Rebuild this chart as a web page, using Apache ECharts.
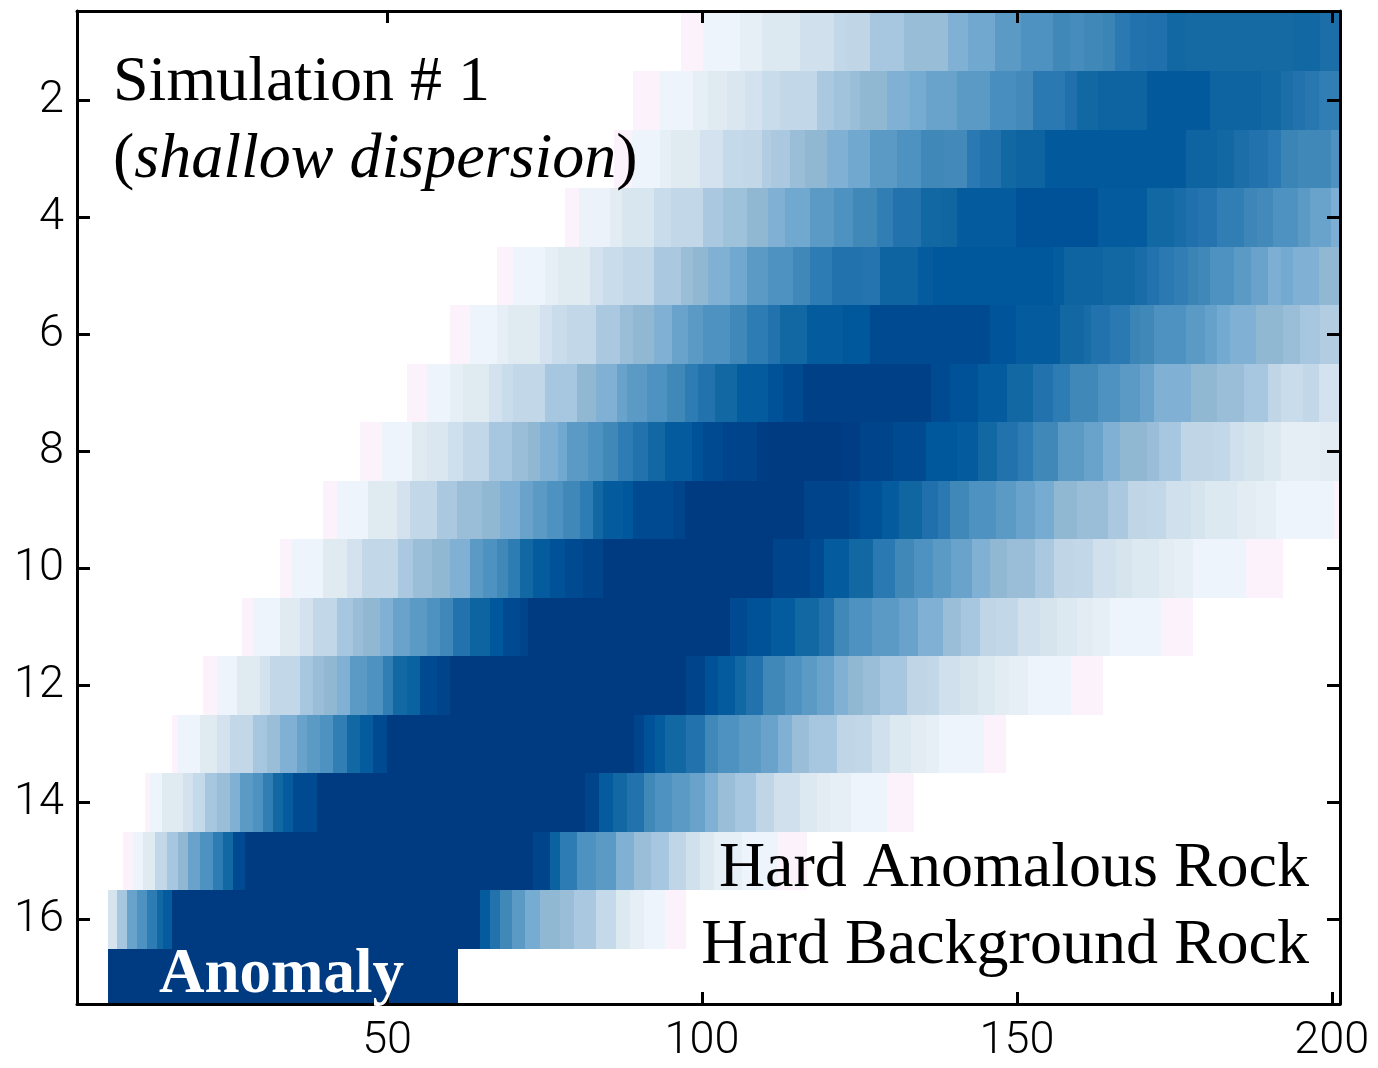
<!DOCTYPE html>
<html>
<head>
<meta charset="utf-8">
<title>Simulation # 1 (shallow dispersion)</title>
<script src="https://cdn.jsdelivr.net/npm/echarts@6/dist/echarts.min.js"></script>
<style>
  html, body { margin: 0; padding: 0; background: #fff; }
  #chart { width: 1378px; height: 1068px; }
</style>
</head>
<body>
<div id="chart"></div>
<script>
// Dispersion level (0-100) along each depth row.
// Each entry is [x where the step starts, level]; a step runs to the next entry.
const row01 = [[96.6,0],[100.2,5],[106.1,8],[109.6,12],[115.6,17],[120.9,23],[123.1,24],[126.7,31],[132,37],[139,45],[142.3,50],[146.6,56],[150.6,60],[155.8,65],[158.5,63],[160.6,65],[163.7,67],[165.6,72],[168,75],[170.7,76],[173.9,80],[176.8,79],[193.9,80],[198.2,77]];
const row02 = [[89.1,0],[93.4,5],[98.6,8],[101,11],[104,13],[106.9,16],[109.6,20],[112.4,23],[118.3,30],[120.9,33],[123.5,36],[125.1,40],[129.4,45],[133.1,48],[135.5,52],[140.5,56],[145.8,62],[149.9,64],[152.6,72],[157.7,76],[159.6,80],[162.8,83],[170.7,89],[180.7,83],[188.7,80],[191.9,77],[193.9,75],[195.8,73],[197.9,70]];
const row03 = [[86.0,0],[88.9,5],[93.4,8],[95,11],[99.7,16],[103.4,22],[106.5,23],[109.6,28],[110.9,30],[114,36],[116.4,40],[119.9,45],[123.2,50],[126.7,56],[131,60],[134.7,65],[138.4,64],[142.1,72],[144.2,75],[147.4,80],[149.9,83],[154.5,89],[176.8,83],[181.8,80],[184.4,77],[186.8,75],[189.8,72],[191.9,67],[194.7,65],[199.8,60]];
const row04 = [[78.3,0],[80.4,6],[85.4,10],[87.3,14],[92.3,20],[95,23],[100.2,30],[103.4,34],[107.2,40],[110.4,45],[113.2,50],[117.2,56],[120.9,60],[124,65],[127.8,70],[130.4,75],[134.7,80],[137.9,82],[140.5,88],[149.8,92],[162.8,88],[170.7,80],[174.9,78],[176.8,76],[178.7,74],[181.8,70],[186,66],[188.2,64],[190.6,60],[194.7,56],[196.6,52],[199.8,46]];
const row05 = [[67.5,0],[70,5],[75.1,8],[77.2,11],[82.2,16],[84.3,20],[87.5,23],[92.3,30],[96.6,36],[98.6,40],[101,45],[104.5,50],[107.2,56],[110.5,60],[114.5,65],[117.2,71],[120.7,75],[125.5,74],[128.3,83],[134.3,88],[136.6,90],[155.8,88],[157.4,83],[163.7,80],[168.8,78],[170.7,75],[172.5,72],[174.9,70],[177.1,67],[178.8,65],[180.7,60],[184.4,56],[187.1,52],[189.8,46],[191.9,49],[193.9,45],[197.9,40]];
const row06 = [[60,0],[63.2,5],[67.5,8],[69.2,11],[74.3,16],[76.2,20],[78.6,23],[83.1,30],[87,36],[89.1,40],[92.3,45],[95.3,52],[97.7,56],[100.2,60],[104.5,65],[107.2,71],[110.5,75],[112.4,80],[116.7,88],[122.4,90],[126.7,95],[145.8,91],[149.8,88],[156.9,80],[160.6,78],[161.7,75],[164.8,72],[168,67],[169.6,65],[171.7,60],[176.8,56],[179.9,53],[181.8,49],[183.9,45],[187.9,40],[192.2,36],[195,31],[198.2,28]];
const row07 = [[53.2,0],[56.4,5],[60,8],[62.1,11],[66.1,16],[68.3,20],[70,23],[75.1,31],[80.2,40],[83.1,45],[86.5,52],[88.1,56],[91.3,60],[94.5,65],[97.3,71],[99.4,75],[102.1,80],[105.6,88],[110.4,92],[112.9,95],[116.1,98],[136.3,95],[139.4,92],[143.9,88],[148.5,80],[152.5,75],[155.8,71],[158.5,65],[162.8,60],[166.4,56],[169.6,52],[171.7,45],[177.6,40],[181.8,36],[186,31],[189.8,24],[191.9,20],[195.5,23],[197.9,16]];
const row08 = [[45.7,0],[49.2,5],[54,11],[56.4,13],[59.7,18],[62.1,23],[66.1,31],[69.9,36],[72.4,40],[74.3,45],[77.2,50],[78.6,56],[81.9,60],[84.3,65],[86.7,71],[89.1,75],[91.5,80],[94.2,88],[98.4,92],[100.2,95],[103.4,97],[108.8,99],[110.8,100],[122,99],[125.1,97],[130.4,95],[135.5,90],[140.5,88],[143.9,80],[146.9,75],[150.1,71],[152.6,65],[156.6,56],[160.6,52],[163.7,45],[166.4,40],[170.7,36],[172.5,31],[176,24],[181.2,23],[183.9,17],[186,15],[189.2,12],[191.9,9],[198.2,10]];
const row09 = [[39.8,0],[42.1,5],[47,11],[51.6,16],[53.7,23],[57.9,30],[61.1,36],[65.1,40],[68,45],[71.1,52],[73.2,56],[75.4,60],[77.9,65],[80.7,71],[82.7,80],[84.3,88],[87.5,90],[89.1,95],[95.4,97],[97.3,100],[116.2,97],[123.4,95],[125.1,92],[128.5,88],[131.3,82],[135,76],[137.5,72],[139.3,65],[142.4,60],[146.7,56],[149.8,52],[152.9,48],[155.9,40],[159.6,36],[164.5,30],[167.7,24],[170.7,23],[173.7,17],[177.6,15],[179.9,12],[184.9,10],[188,8],[191.1,5],[200.3,0]];
const row10 = [[33,0],[34.9,5],[39.8,11],[43.6,16],[46,23],[51.8,30],[54.1,36],[57.1,40],[60,45],[63.2,56],[65.3,60],[67.5,65],[69.2,71],[71.1,80],[73.2,88],[75.9,92],[78.3,95],[81.1,97],[84.2,100],[111.3,97],[117.2,95],[119.3,88],[123.4,80],[127.1,72],[130.7,65],[133.7,60],[136.6,56],[139.6,52],[142.8,45],[145.8,40],[148.5,36],[152.9,30],[155.9,24],[158.9,23],[162.1,17],[165.8,15],[168.2,12],[172.6,10],[175,8],[178,5],[186.4,0]];
const row11 = [[27,0],[28.7,5],[33,11],[36.2,16],[38.2,23],[42.1,31],[44.6,36],[46.2,40],[48.9,45],[51,52],[53.7,56],[56.4,60],[58.4,65],[60.5,75],[63.2,83],[66.4,90],[68.4,95],[71.1,97],[72.3,100],[104.5,95],[107.2,92],[111,88],[114.7,80],[118.5,75],[120.9,65],[123.4,60],[127,56],[131.3,52],[134.3,45],[138.2,36],[141.2,31],[144.2,24],[146.7,23],[150.1,17],[153.7,15],[156.3,12],[159.6,10],[162.1,8],[164.8,5],[172.8,0]];
const row12 = [[20.8,0],[23,5],[26.2,11],[29.8,16],[31.4,23],[36.2,31],[38.3,36],[39.9,40],[42.1,45],[44.1,56],[46.8,60],[49.4,70],[51,80],[53.2,85],[55.2,95],[57.9,97],[60,100],[97.5,97],[100.4,92],[102.6,88],[105.3,80],[107,75],[109.7,65],[113.2,60],[115.9,56],[118.2,52],[121,45],[123.2,40],[125.5,36],[128.2,31],[132.6,24],[135.5,23],[137.7,17],[141,15],[143.9,12],[146.6,10],[148.8,8],[151.7,5],[158.6,0]];
const row13 = [[15.9,0],[16.8,5],[20.3,11],[23,16],[25.1,23],[28.7,31],[31,36],[33,45],[35.7,52],[37.3,56],[39.4,60],[41.4,70],[43.7,80],[45.7,88],[47.8,95],[50,100],[89.2,97],[90.8,92],[92.6,88],[94.2,80],[97.5,75],[100.4,65],[102.6,60],[105.9,56],[109.3,52],[112.1,45],[114.3,36],[117,31],[121.5,24],[124.3,23],[127,17],[129.9,12],[133.2,10],[135.5,8],[137.7,5],[144.7,0]];
const row14 = [[11.6,0],[12.4,5],[14.3,11],[17.6,16],[19.2,22],[21.1,31],[23,36],[25.1,45],[26.7,56],[28.7,60],[30.3,70],[31.9,80],[33.5,88],[35.1,95],[38.9,100],[81.4,97],[83.7,88],[85.9,80],[88.1,75],[90.8,65],[92.6,60],[95.3,56],[98.1,52],[100.4,45],[102.6,36],[105.3,31],[108.6,24],[111.5,17],[115.5,12],[118.2,10],[120.4,8],[123.7,5],[129.3,0]];
const row15 = [[8.1,0],[9.7,5],[11.3,11],[13.2,23],[15.1,31],[16.8,40],[18.4,52],[20.3,60],[22.4,71],[23.9,80],[25.5,95],[27.5,100],[73.2,97],[75.9,85],[77.5,71],[80.2,60],[83.1,56],[86.4,45],[89.2,36],[91.9,31],[94.8,24],[97.5,17],[99.7,12],[101.9,8],[106.4,5],[112.1,0]];
const row16 = [[5.7,15],[7.1,31],[8.7,52],[10.3,60],[11.9,71],[13.5,80],[14.4,88],[15.9,100],[64.8,88],[66.4,75],[68,65],[69.9,56],[71.9,48],[74.3,40],[77.5,36],[79.7,30],[83.1,22],[86.4,12],[88.6,8],[90.8,5],[94.2,0]];
const row17 = [[5.7,100]];

// Where the last step of each row stops (x).
const rowEnds = [201.3, 201.3, 201.3, 201.3, 201.3, 201.3, 201.3, 201.3, 201.3, 192.3, 177.9, 163.6, 148.3, 133.6, 116.6, 97.5, 61.3];

// Axis extents and tick values
const xRange = [0.76, 201.3];
const yRange = [0.474, 17.446];
const xTickValues = [50, 100, 150, 200];
const yTickValues = [2, 4, 6, 8, 10, 12, 14, 16];

// Colour ramp for levels 0, 5, 10, ... 100
const levelColors = ['#fcf2fc', '#eef4fc', '#e2ecf2', '#d6e4ee', '#c8dcec', '#bed4e6', '#aac8e0',
  '#9cc0da', '#90b8d2', '#80b0d4', '#70a8d0', '#5e9cc6', '#4e92c2', '#4088b8', '#307eb4',
  '#2272ae', '#1268a2', '#0a62a0', '#00589c', '#004a92', '#003a80'];

const rows = [row01, row02, row03, row04, row05, row06, row07, row08, row09,
  row10, row11, row12, row13, row14, row15, row16, row17];

// Flatten into cells: [xStart, xEnd, row, level]
const cells = [];
rows.forEach((steps, i) => {
  steps.forEach((step, j) => {
    const xEnd = j + 1 < steps.length ? steps[j + 1][0] : rowEnds[i];
    cells.push([step[0], xEnd, i + 1, step[1]]);
  });
});

function renderCell(params, api) {
  const a = api.coord([api.value(0), api.value(2) - 0.5]);
  const b = api.coord([api.value(1), api.value(2) + 0.5]);
  const x0 = Math.round(Math.min(a[0], b[0]));
  const x1 = Math.round(Math.max(a[0], b[0]));
  const y0 = Math.round(Math.min(a[1], b[1]));
  const y1 = Math.round(Math.max(a[1], b[1]));
  const cs = params.coordSys;
  const shape = echarts.graphic.clipRectByRect(
    { x: x0, y: y0, width: x1 - x0, height: y1 - y0 },
    { x: cs.x, y: cs.y, width: cs.width, height: cs.height }
  );
  return shape && { type: 'rect', shape: shape, style: { fill: api.visual('color') } };
}

const frameLine = { show: true, onZero: false, lineStyle: { color: '#000', width: 3 } };
const tickFont = { fontFamily: 'Roboto, "Liberation Sans", Arial, sans-serif', fontWeight: 300, fontSize: 45, color: '#000' };
const serif = '"Liberation Serif", "Times New Roman", serif';

const chart = echarts.init(document.getElementById('chart'), null, { renderer: 'canvas' });
chart.setOption({
  animation: false,
  backgroundColor: '#fff',
  grid: { left: 77, right: 38, top: 11, bottom: 64 },
  xAxis: [
    {
      type: 'value', position: 'bottom', min: xRange[0], max: xRange[1], z: 10,
      axisLine: frameLine, splitLine: { show: false },
      axisTick: { show: true, inside: true, length: 12, customValues: xTickValues, lineStyle: { color: '#000', width: 3 } },
      axisLabel: Object.assign({ customValues: xTickValues, margin: 15 }, tickFont)
    },
    {
      type: 'value', position: 'top', min: xRange[0], max: xRange[1], z: 10,
      axisLine: frameLine, splitLine: { show: false },
      axisTick: { show: true, inside: true, length: 12, customValues: xTickValues, lineStyle: { color: '#000', width: 3 } },
      axisLabel: { show: false }
    }
  ],
  yAxis: [
    {
      type: 'value', position: 'left', inverse: true, min: yRange[0], max: yRange[1], z: 10,
      axisLine: frameLine, splitLine: { show: false },
      axisTick: { show: true, inside: true, length: 13, customValues: yTickValues, lineStyle: { color: '#000', width: 3 } },
      axisLabel: Object.assign({ customValues: yTickValues, margin: 13 }, tickFont)
    },
    {
      type: 'value', position: 'right', inverse: true, min: yRange[0], max: yRange[1], z: 10,
      axisLine: frameLine, splitLine: { show: false },
      axisTick: { show: true, inside: true, length: 13, customValues: yTickValues, lineStyle: { color: '#000', width: 3 } },
      axisLabel: { show: false }
    }
  ],
  visualMap: {
    type: 'continuous', show: false, min: 0, max: 100, dimension: 3, seriesIndex: 0,
    inRange: { color: levelColors }
  },
  series: [{
    type: 'custom',
    xAxisIndex: 0,
    yAxisIndex: 0,
    renderItem: renderCell,
    encode: { x: [0, 1], y: 2 },
    data: cells,
    clip: true,
    silent: true
  }],
  graphic: [
    {
      type: 'text', z: 100, silent: true,
      style: { text: 'Simulation # 1', x: 113, y: 83, fontFamily: serif, fontSize: 64, fill: '#000', align: 'left', verticalAlign: 'middle' }
    },
    {
      type: 'text', z: 100, silent: true,
      style: {
        text: '{r|(}{i|shallow dispersion}{r|)}', x: 113, y: 160, align: 'left', verticalAlign: 'middle',
        rich: {
          r: { fontFamily: serif, fontSize: 64, fill: '#000' },
          i: { fontFamily: serif, fontSize: 64, fontStyle: 'italic', fill: '#000' }
        }
      }
    },
    {
      type: 'text', z: 100, silent: true,
      style: { text: 'Hard Anomalous Rock', x: 1309, y: 869, fontFamily: serif, fontSize: 64, fill: '#000', align: 'right', verticalAlign: 'middle' }
    },
    {
      type: 'text', z: 100, silent: true,
      style: { text: 'Hard Background Rock', x: 1309, y: 946, fontFamily: serif, fontSize: 64, fill: '#000', align: 'right', verticalAlign: 'middle' }
    },
    {
      type: 'text', z: 100, silent: true,
      style: { text: 'Anomaly', x: 159, y: 976, fontFamily: serif, fontSize: 63, fontWeight: 'bold', fill: '#fff', align: 'left', verticalAlign: 'middle' }
    }
  ]
});
</script>
</body>
</html>
